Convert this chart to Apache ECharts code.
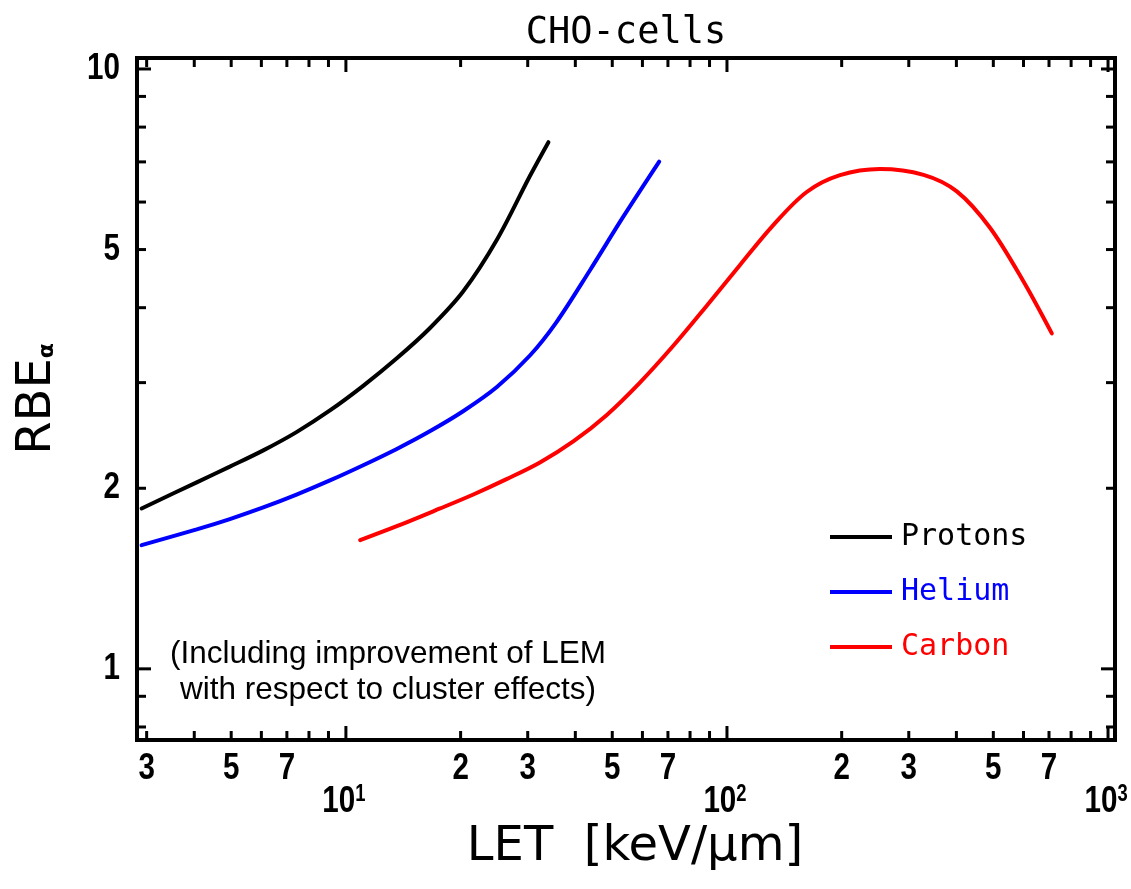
<!DOCTYPE html>
<html>
<head>
<meta charset="utf-8">
<script src="https://cdn.jsdelivr.net/npm/echarts@6/dist/echarts.min.js"></script>
<style>
  html, body { margin: 0; padding: 0; background: #fff; }
  #chart { width: 1131px; height: 889px; }
</style>
</head>
<body>
<div id="chart"></div>
<script>
// RBE_alpha versus LET for CHO cells, per ion species (log-log)
const protonsLET = [2.91, 4.06, 4.96, 6.07, 7.42, 9.08, 11.1, 13.6, 16.6, 20.3, 24.9, 30.4, 34.0];
const protonsRBE = [1.851, 2.046, 2.173, 2.313, 2.481, 2.696, 2.963, 3.293, 3.696, 4.255, 5.191, 6.630, 7.55];

const heliumLET = [2.91, 4.06, 4.96, 6.07, 7.42, 9.08, 11.1, 13.6, 16.6, 20.3, 24.9, 30.4, 35.7, 43.7, 53.4, 66.4];
const heliumRBE = [1.608, 1.708, 1.777, 1.858, 1.952, 2.061, 2.185, 2.326, 2.489, 2.688, 2.950, 3.329, 3.785, 4.619, 5.667, 7.008];

const carbonLET = [10.9, 13.6, 17.6, 21.6, 26.4, 32.3, 39.5, 48.3, 59.1, 72.3, 88.4, 108.2, 132.3, 161.9,
                   198, 252, 328, 401, 490, 599, 712];
const carbonRBE = [1.639, 1.729, 1.849, 1.953, 2.071, 2.208, 2.394, 2.648, 3.001, 3.456, 4.027, 4.713, 5.492, 6.236,
                   6.652, 6.81, 6.66, 6.25, 5.436, 4.431, 3.624];

// axis ranges
const LET_MIN = 2.83, LET_MAX = 1043;
const RBE_MIN = 0.761, RBE_MAX = 10.43;

// tick positions and labels
const xTickValues = [3, 4, 5, 6, 7, 8, 9, 10, 20, 30, 40, 50, 60, 70, 80, 90, 100,
                     200, 300, 400, 500, 600, 700, 800, 900, 1000];
const yTickValues = [0.8, 0.9, 1, 2, 3, 4, 5, 6, 7, 8, 9, 10];
const xLabelValues = [3, 5, 7, 10, 20, 30, 50, 70, 100, 200, 300, 500, 700, 1000];
const xLabelTexts  = ['3', '5', '7', '10^1', '2', '3', '5', '7', '10^2', '2', '3', '5', '7', '10^3'];
const yLabelValues = [1, 2, 5, 10];
const yLabelTexts  = ['1', '2', '5', '10'];

const zip = (a, b) => a.map((v, i) => [v, b[i]]);
const isDecade = v => Math.abs(Math.log10(v) - Math.round(Math.log10(v))) < 1e-9;

// condensed bold digits for the tick labels
const TICK_FONT = 'Liberation Sans';
const TICK_SIZE = 37;
const TICK_SCALE_X = 0.8;
const SMOOTH = 0.33;

const chart = echarts.init(document.getElementById('chart'), null, { renderer: 'canvas' });

const option = {
  backgroundColor: '#ffffff',
  animation: false,
  title: {
    text: 'CHO-cells',
    left: 621,
    textAlign: 'center',
    top: 10,
    textStyle: { fontFamily: 'DejaVu Sans Mono', fontSize: 37, fontWeight: 'normal', color: '#000' }
  },
  grid: {
    left: 137, right: 16, top: 58, bottom: 149,
    show: true, borderColor: '#000', borderWidth: 4, backgroundColor: 'transparent'
  },
  legend: {
    orient: 'vertical',
    left: 825,
    top: 517,
    icon: 'rect',
    itemWidth: 62,
    itemHeight: 4,
    itemGap: 25,
    selectedMode: false,
    textStyle: { fontFamily: 'DejaVu Sans Mono', fontSize: 30, lineHeight: 30, padding: [0, 0, 0, 4] },
    data: [
      { name: 'Protons', textStyle: { color: '#000000' } },
      { name: 'Helium', textStyle: { color: '#0000ff' } },
      { name: 'Carbon', textStyle: { color: '#ff0000' } }
    ]
  },
  xAxis: {
    type: 'log', logBase: 10, min: LET_MIN, max: LET_MAX,
    axisLine: { show: false }, axisTick: { show: false }, axisLabel: { show: false },
    splitLine: { show: false }, minorTick: { show: false },
    name: 'LET  [keV/\u03bcm]',
    nameLocation: 'middle',
    nameGap: 84,
    nameTextStyle: { fontFamily: 'DejaVu Sans', fontSize: 48, color: '#000', padding: [0, 0, 0, 18] }
  },
  yAxis: {
    type: 'log', logBase: 10, min: RBE_MIN, max: RBE_MAX,
    axisLine: { show: false }, axisTick: { show: false }, axisLabel: { show: false },
    splitLine: { show: false }, minorTick: { show: false },
    name: '{m|RBE}{s|\u03b1}',
    nameLocation: 'middle',
    nameGap: 75,
    nameRotate: 90,
    nameTextStyle: {
      color: '#000',
      rich: {
        m: { fontFamily: 'DejaVu Sans', fontSize: 48, color: '#000', lineHeight: 48 },
        s: { fontFamily: 'DejaVu Sans', fontSize: 22, fontWeight: 'bold', color: '#000', verticalAlign: 'bottom', lineHeight: 22, padding: [0, 0, 4, 0] }
      }
    }
  },
  graphic: [
    {
      type: 'text',
      x: 388, y: 636,
      style: {
        text: '(Including improvement of LEM\nwith respect to cluster effects)',
        fontFamily: 'Liberation Sans', fontSize: 31.5, lineHeight: 36,
        fill: '#000', align: 'center', verticalAlign: 'top'
      }
    }
  ],
  series: [
    {
      name: 'Protons', type: 'line', data: zip(protonsLET, protonsRBE),
      color: '#000000', showSymbol: false, smooth: SMOOTH,
      lineStyle: { width: 4, color: '#000000', cap: 'round' }, z: 3
    },
    {
      name: 'Helium', type: 'line', data: zip(heliumLET, heliumRBE),
      color: '#0000ff', showSymbol: false, smooth: SMOOTH,
      lineStyle: { width: 4, color: '#0000ff', cap: 'round' }, z: 3
    },
    {
      name: 'Carbon', type: 'line', data: zip(carbonLET, carbonRBE),
      color: '#ff0000', showSymbol: false, smooth: SMOOTH,
      lineStyle: { width: 4, color: '#ff0000', cap: 'round' }, z: 3
    },
    // x ticks on bottom and top frame edges
    {
      type: 'custom', silent: true, z: 4,
      data: xTickValues.map(v => [v, RBE_MIN]),
      encode: { x: 0, y: 1 },
      renderItem: function (params, api) {
        const v = api.value(0);
        const len = isDecade(v) ? 14 : 9;
        const b = api.coord([v, RBE_MIN]);
        const t = api.coord([v, RBE_MAX]);
        const st = { stroke: '#000', lineWidth: 3 };
        return {
          type: 'group',
          children: [
            { type: 'line', shape: { x1: b[0], y1: b[1], x2: b[0], y2: b[1] - len }, style: st },
            { type: 'line', shape: { x1: t[0], y1: t[1], x2: t[0], y2: t[1] + len }, style: st }
          ]
        };
      }
    },
    // y ticks on left and right frame edges
    {
      type: 'custom', silent: true, z: 4,
      data: yTickValues.map(v => [LET_MIN, v]),
      encode: { x: 0, y: 1 },
      renderItem: function (params, api) {
        const v = api.value(1);
        const len = isDecade(v) ? 14 : 9;
        const l = api.coord([LET_MIN, v]);
        const r = api.coord([LET_MAX, v]);
        const st = { stroke: '#000', lineWidth: 3 };
        return {
          type: 'group',
          children: [
            { type: 'line', shape: { x1: l[0], y1: l[1], x2: l[0] + len, y2: l[1] }, style: st },
            { type: 'line', shape: { x1: r[0], y1: r[1], x2: r[0] - len, y2: r[1] }, style: st }
          ]
        };
      }
    },
    // x tick labels (decades on a lower row with exponents)
    {
      type: 'custom', silent: true, z: 4,
      data: xLabelValues.map(v => [v, RBE_MIN]),
      encode: { x: 0, y: 1 },
      renderItem: function (params, api) {
        const v = api.value(0);
        const p = api.coord([v, RBE_MIN]);
        const txt = xLabelTexts[params.dataIndex];
        if (txt.indexOf('^') >= 0) {
          const parts = txt.split('^');
          return {
            type: 'text',
            x: p[0] - 2, y: p[1] + 62,
            scaleX: TICK_SCALE_X,
            style: {
              text: '{n|' + parts[0] + '}{e|' + parts[1] + '}',
              align: 'center', verticalAlign: 'middle',
              rich: {
                n: { fontFamily: TICK_FONT, fontWeight: 'bold', fontSize: TICK_SIZE, fill: '#000', lineHeight: TICK_SIZE },
                e: { fontFamily: TICK_FONT, fontWeight: 'bold', fontSize: 23, fill: '#000', lineHeight: 23, verticalAlign: 'top', padding: [0, 0, 10, 0] }
              }
            }
          };
        }
        return {
          type: 'text',
          x: p[0], y: p[1] + 29,
          scaleX: TICK_SCALE_X,
          style: {
            text: txt, align: 'center', verticalAlign: 'middle',
            fontFamily: TICK_FONT, fontWeight: 'bold', fontSize: TICK_SIZE, fill: '#000'
          }
        };
      }
    },
    // y tick labels
    {
      type: 'custom', silent: true, z: 4,
      data: yLabelValues.map(v => [LET_MIN, v]),
      encode: { x: 0, y: 1 },
      renderItem: function (params, api) {
        const v = api.value(1);
        const p = api.coord([LET_MIN, v]);
        return {
          type: 'text',
          x: p[0] - 17, y: p[1],
          scaleX: TICK_SCALE_X,
          style: {
            text: yLabelTexts[params.dataIndex], align: 'right', verticalAlign: 'middle',
            fontFamily: TICK_FONT, fontWeight: 'bold', fontSize: TICK_SIZE, fill: '#000'
          }
        };
      }
    }
  ]
};

chart.setOption(option);
</script>
</body>
</html>
